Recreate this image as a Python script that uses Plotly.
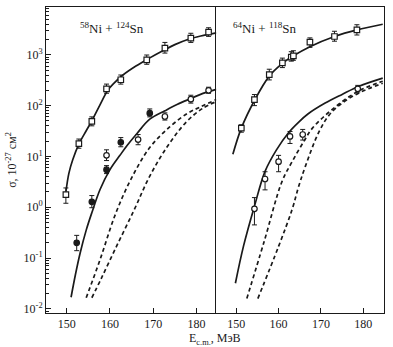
import plotly.graph_objects as go
from plotly.subplots import make_subplots

# ---------------- 58Ni + 124Sn ----------------
ni58_top_E = [149.8, 152.8, 155.8, 159.2, 162.5, 168.5, 172.7, 178.7, 182.8]
ni58_top_s = [1.78, 17.8, 49, 214, 323, 797, 1355, 2130, 2800]
ni58_top_hi = [2.4, 22, 60, 265, 400, 990, 1750, 2650, 3400]
ni58_top_lo = [1.2, 14.5, 40, 175, 265, 650, 1080, 1750, 2300]

ni58_open_E = [159.2, 166.5, 172.7, 178.7, 182.8]
ni58_open_s = [10.5, 21.5, 61, 134, 200]
ni58_open_hi = [13.5, 27, 72, 160, 230]
ni58_open_lo = [8.3, 17, 52, 112, 175]

ni58_fill_E = [152.3, 155.8, 159.2, 162.5, 169.2]
ni58_fill_s = [0.20, 1.28, 5.5, 19, 71]
ni58_fill_hi = [0.28, 1.7, 6.6, 23.5, 86]
ni58_fill_lo = [0.14, 0.98, 4.6, 15.5, 60]

ni58_fit_top_E = [149.8, 150.5, 151.4, 152.8, 154.5, 155.8, 157.6, 159.5, 161.0,
                  163.0, 166.0, 169.0, 172.0, 175.0, 178.0, 181.0, 184.6]
ni58_fit_top_s = [2.0, 4.7, 8.7, 17.5, 32, 50, 100, 200, 280,
                  400, 600, 850, 1175, 1585, 2000, 2340, 2700]

ni58_fit_low_E = [151.0, 152.0, 153.1, 154.5, 155.8, 157.7, 160.0, 162.3, 164.0,
                  166.2, 169.2, 172.7, 175.5, 178.7, 181.5, 184.6]
ni58_fit_low_s = [0.017, 0.047, 0.126, 0.355, 0.78, 2.24, 5.5, 10.5, 16.6,
                  28, 54, 79, 105, 138, 174, 209]

ni58_dash1_E = [154.5, 157.7, 161.2, 164.8, 169.2, 173.8, 178.0, 181.0, 184.6]
ni58_dash1_s = [0.0166, 0.093, 0.71, 3.5, 15, 38, 71, 95, 132]

ni58_dash2_E = [155.8, 158.0, 161.5, 165.6, 169.0, 173.1, 177.7, 181.5, 184.6]
ni58_dash2_s = [0.0166, 0.04, 0.17, 0.89, 3.8, 15, 48, 89, 120]

# ---------------- 64Ni + 118Sn ----------------
ni64_top_E = [151.2, 154.3, 157.8, 160.9, 163.0, 163.5, 167.4, 173.2, 178.5]
ni64_top_s = [36, 131, 406, 690, 900, 955, 1770, 2290, 3100]
ni64_top_hi = [42, 165, 520, 860, 1150, 1200, 2150, 2900, 3900]
ni64_top_lo = [30, 100, 320, 560, 750, 780, 1400, 1850, 2450]

ni64_low_E = [154.3, 156.8, 160.0, 162.7, 165.7, 178.7]
ni64_low_s = [0.93, 3.6, 7.9, 24.8, 27, 214]
ni64_low_hi = [1.55, 5.0, 10.5, 31, 34, 250]
ni64_low_lo = [0.45, 2.2, 5.0, 18, 21, 185]

ni64_fit_top_E = [149.2, 151.2, 154.3, 157.8, 160.9, 163.3, 167.4, 173.2, 178.5, 184.6]
ni64_fit_top_s = [11, 36, 126, 380, 676, 933, 1445, 2290, 3090, 3980]

ni64_fit_low_E = [149.8, 151.7, 154.3, 156.8, 159.5, 162.3, 164.7, 167.0, 171.0, 175.0, 179.0, 184.6]
ni64_fit_low_s = [0.032, 0.17, 1.05, 5.1, 13.5, 29, 47, 69, 112, 166, 240, 347]

ni64_dash1_E = [152.5, 156.5, 160.8, 163.2, 166.0, 168.0, 172.6, 178.5, 184.6]
ni64_dash1_s = [0.016, 0.2, 3.2, 7.9, 20, 36, 83, 186, 302]

ni64_dash2_E = [155.1, 160.0, 163.2, 164.7, 166.3, 169.5, 172.0, 175.0, 179.0, 184.6]
ni64_dash2_s = [0.016, 0.17, 0.91, 2.5, 6.3, 30, 66, 112, 178, 275]

x_ticks = [150, 160, 170, 180]
y_ticks = [0.01, 0.1, 1, 10, 100, 1000]
y_tick_text = ["10<sup>-2</sup>", "10<sup>-1</sup>", "10<sup>0</sup>",
               "10<sup>1</sup>", "10<sup>2</sup>", "10<sup>3</sup>"]

SERIF = "Liberation Serif"
INK = "#1a1a1a"

fig = make_subplots(rows=1, cols=2, shared_yaxes=True, horizontal_spacing=0)


def curve(E, s, col, dash="solid"):
    fig.add_trace(go.Scatter(x=E, y=s, mode="lines", line_shape="spline",
                             line=dict(color=INK, width=1.7, dash=dash),
                             showlegend=False, hoverinfo="skip"), row=1, col=col)


def points(E, s, hi, lo, col, symbol, fill):
    up = [h - v for h, v in zip(hi, s)]
    dn = [v - l for v, l in zip(s, lo)]
    fig.add_trace(go.Scatter(
        x=E, y=s, mode="markers",
        marker=dict(symbol=symbol, size=5.5, color=fill, line=dict(color=INK, width=1.2)),
        error_y=dict(type="data", symmetric=False, array=up, arrayminus=dn,
                     color=INK, thickness=1, width=2.5),
        showlegend=False), row=1, col=col)


dash = "4px,3px"
curve(ni58_fit_top_E, ni58_fit_top_s, 1)
curve(ni58_fit_low_E, ni58_fit_low_s, 1)
curve(ni58_dash1_E, ni58_dash1_s, 1, dash)
curve(ni58_dash2_E, ni58_dash2_s, 1, dash)
points(ni58_top_E, ni58_top_s, ni58_top_hi, ni58_top_lo, 1, "square", "white")
points(ni58_open_E, ni58_open_s, ni58_open_hi, ni58_open_lo, 1, "circle", "white")
points(ni58_fill_E, ni58_fill_s, ni58_fill_hi, ni58_fill_lo, 1, "circle", INK)

curve(ni64_fit_top_E, ni64_fit_top_s, 2)
curve(ni64_fit_low_E, ni64_fit_low_s, 2)
curve(ni64_dash1_E, ni64_dash1_s, 2, dash)
curve(ni64_dash2_E, ni64_dash2_s, 2, dash)
points(ni64_top_E, ni64_top_s, ni64_top_hi, ni64_top_lo, 2, "square", "white")
points(ni64_low_E, ni64_low_s, ni64_low_hi, ni64_low_lo, 2, "circle", "white")

xcommon = dict(tickvals=x_ticks, ticks="inside", ticklen=5, tickcolor=INK,
               showline=True, linecolor=INK, linewidth=1, mirror=True,
               showgrid=False, zeroline=False,
               tickfont=dict(family=SERIF, size=12, color=INK))
fig.update_xaxes(range=[145.2, 184.6], domain=[0, 0.504], row=1, col=1, **xcommon)
fig.update_xaxes(range=[145.3, 184.9], domain=[0.504, 1], row=1, col=2, **xcommon)

# left panel: y axis on the left edge only; the divider comes from the right panel
fig.update_yaxes(type="log", range=[-2.08, 3.94], tickvals=y_ticks, ticktext=y_tick_text,
                 ticks="inside", ticklen=5, tickcolor=INK,
                 minor=dict(ticks="inside", ticklen=3, tickcolor=INK, dtick="D1", showgrid=False),
                 showline=True, linecolor=INK, linewidth=1, mirror=False,
                 showgrid=False, zeroline=False,
                 tickfont=dict(family=SERIF, size=12, color=INK),
                 title=dict(text="σ, 10<sup>-27</sup> см<sup>2</sup>",
                            font=dict(family=SERIF, size=12, color=INK), standoff=4),
                 row=1, col=1)
fig.update_yaxes(type="log", range=[-2.08, 3.94], ticks="", showticklabels=False,
                 showline=True, linecolor=INK, linewidth=1, mirror=True,
                 showgrid=False, zeroline=False, row=1, col=2)

fig.add_annotation(text="<sup>58</sup>Ni + <sup>124</sup>Sn", xref="x", yref="paper",
                   x=152.5, y=0.965, xanchor="left", yanchor="top", showarrow=False,
                   font=dict(family=SERIF, size=13, color=INK))
fig.add_annotation(text="<sup>64</sup>Ni + <sup>118</sup>Sn", xref="x2", yref="paper",
                   x=148.7, y=0.965, xanchor="left", yanchor="top", showarrow=False,
                   font=dict(family=SERIF, size=13, color=INK))
fig.add_annotation(text="E<sub>c.m.</sub>, МэВ", xref="paper", yref="paper",
                   x=0.5, y=-0.052, xanchor="center", yanchor="top", showarrow=False,
                   font=dict(family=SERIF, size=12, color=INK))

fig.update_layout(width=393, height=347, margin=dict(l=46, r=9, t=7, b=34),
                  paper_bgcolor="white", plot_bgcolor="white")

fig.write_html("out.html")
